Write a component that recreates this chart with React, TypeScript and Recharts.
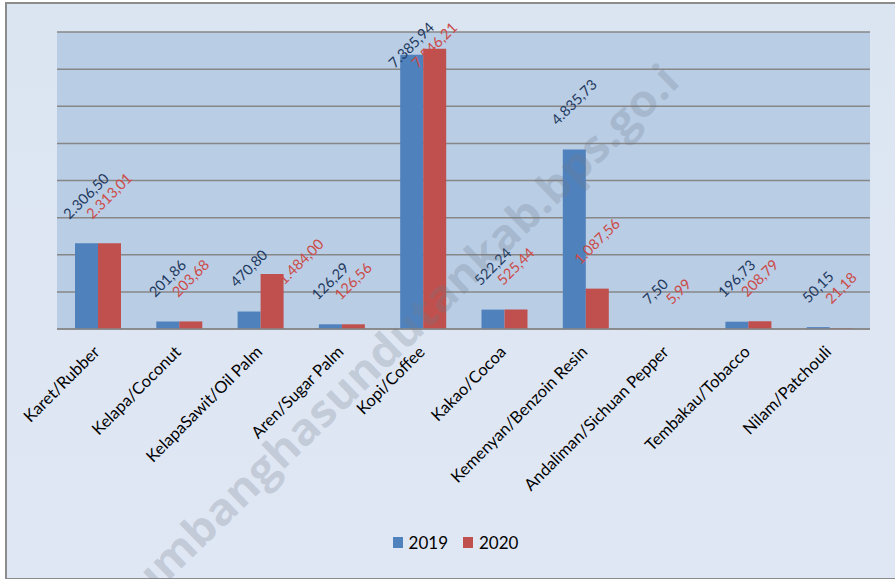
import React from 'react';
import { BarChart, Bar, XAxis, YAxis, CartesianGrid, LabelList, Legend } from 'recharts';

const categories = [
  'Karet/Rubber',
  'Kelapa/Coconut',
  'KelapaSawit/Oil Palm',
  'Aren/Sugar Palm',
  'Kopi/Coffee',
  'Kakao/Cocoa',
  'Kemenyan/Benzoin Resin',
  'Andaliman/Sichuan Pepper',
  'Tembakau/Tobacco',
  'Nilam/Patchouli',
];
const values2019 = [2306.5, 201.86, 470.8, 126.29, 7385.94, 522.24, 4835.73, 7.5, 196.73, 50.15];
const values2020 = [2313.01, 203.68, 1484.0, 126.56, 7546.21, 525.44, 1087.56, 5.99, 208.79, 21.18];
const seriesNames = ['2019', '2020'];
const yTicks = [0, 1000, 2000, 3000, 4000, 5000, 6000, 7000, 8000];
const watermarkText = 'humbanghasundutankab.bps.go.i';

const data = categories.map((c, i) => ({ name: c, v2019: values2019[i], v2020: values2020[i] }));

const FONT = 'Lato, "Open Sans", sans-serif';
const BLUE = '#4F81BD';
const RED = '#C0504D';

const fmt = (v: number) => {
  const [intPart, dec] = v.toFixed(2).split('.');
  return intPart.replace(/\B(?=(\d{3})+(?!\d))/g, '.') + ',' + dec;
};

const approxWidth = (s: string, fs: number) => {
  let w = 0;
  for (const ch of s) w += /[0-9]/.test(ch) ? 0.58 * fs : 0.25 * fs;
  return w;
};

// label nudges (styling only), keyed by series and category index
const labelNudges: Record<string, Record<number, [number, number]>> = {
  v2020: { 2: [29, 35] },
};

const makeLabel = (color: string, key: string) => (props: any) => {
  const { x, y, width, value, index } = props;
  const text = fmt(Number(value));
  const fs = 14.5;
  const w = approxWidth(text, fs);
  let cx = Number(x) + Number(width) / 2;
  let cy = Number(y) - (0.354 * w + 27);
  cy = Math.max(cy, 45);
  const n = labelNudges[key] && labelNudges[key][index];
  if (n) {
    cx += n[0];
    cy += n[1];
  }
  const half = w / 2;
  // baseline start point (lower-left) so that the rotated text is centred on (cx, cy)
  const bx = cx - half * 0.7071 + 5 * 0.7071;
  const by = cy + half * 0.7071 + 5 * 0.7071;
  return (
    <text
      x={bx}
      y={by}
      transform={`rotate(-45 ${bx} ${by})`}
      textAnchor="start"
      fill={color}
      fontSize={fs}
      fontFamily={FONT}
    >
      {text}
    </text>
  );
};

const CatTick = (props: any) => {
  const { x, y, payload } = props;
  const tx = Number(x) + 3;
  const ty = Number(y) + 24;
  return (
    <g transform={`translate(${tx},${ty}) rotate(-45)`}>
      <text x={0} y={0} textAnchor="end" fill="#000" fontSize={16.5} fontFamily={FONT}>
        {payload.value}
      </text>
    </g>
  );
};

const LegendContent = () => (
  <div
    style={{
      display: 'flex',
      justifyContent: 'center',
      alignItems: 'center',
      height: 30,
      transform: 'translate(-8px, -2px)',
      fontFamily: FONT,
      fontSize: 17,
      color: '#000',
    }}
  >
    {seriesNames.map((s, i) => (
      <div key={s} style={{ display: 'flex', alignItems: 'center', marginRight: i === 0 ? 15 : 0 }}>
        <div style={{ width: 10, height: 11, background: i === 0 ? BLUE : RED, marginRight: 6 }} />
        <span>{s}</span>
      </div>
    ))}
  </div>
);

export default function App() {
  return (
    <div style={{ position: 'absolute', left: 0, top: 0, width: 895, height: 579, background: '#ffffff', overflow: 'hidden' }}>
      <div
        style={{
          position: 'absolute',
          left: 5,
          top: 2,
          width: 900,
          height: 574,
          border: '2px solid #8c8c8c',
          background: 'linear-gradient(#DBE5F1, #E0E7F4)',
        }}
      />
      <div style={{ position: 'absolute', left: 0, top: 0 }}>
        <BarChart
          width={895}
          height={579}
          data={data}
          margin={{ top: 32, right: 25, left: 57, bottom: 20 }}
          barGap={0}
        >
          <CartesianGrid
            vertical={false}
            stroke="#878787"
            strokeWidth={1.5}
            fill="#B9CDE5"
            fillOpacity={1}
          />
          <YAxis hide domain={[0, 8000]} ticks={yTicks} />
          <XAxis
            dataKey="name"
            interval={0}
            height={200}
            tickLine={false}
            tickSize={0}
            tickMargin={0}
            axisLine={{ stroke: '#878787', strokeWidth: 1.5 }}
            tick={<CatTick />}
          />
          <Legend verticalAlign="bottom" height={30} content={<LegendContent />} />
          <Bar dataKey="v2019" name="2019" fill={BLUE} barSize={23} isAnimationActive={false}>
            <LabelList dataKey="v2019" content={makeLabel('#1F3A5F', 'v2019')} />
          </Bar>
          <Bar dataKey="v2020" name="2020" fill={RED} barSize={23} isAnimationActive={false}>
            <LabelList dataKey="v2020" content={makeLabel('#CC4B48', 'v2020')} />
          </Bar>
        </BarChart>
      </div>
      <svg
        width={895}
        height={579}
        style={{ position: 'absolute', left: 0, top: 0, pointerEvents: 'none' }}
      >
        <g transform="translate(392,343) rotate(-44.1)">
          <text
            x={0}
            y={0}
            dy="0.35em"
            textAnchor="middle"
            fontSize={44}
            fontWeight="bold"
            fontFamily='"Open Sans", sans-serif'
            fill="#6f7a8a"
            fillOpacity={0.25}
            textLength={777}
            lengthAdjust="spacingAndGlyphs"
          >
            {watermarkText}
          </text>
        </g>
      </svg>
    </div>
  );
}
